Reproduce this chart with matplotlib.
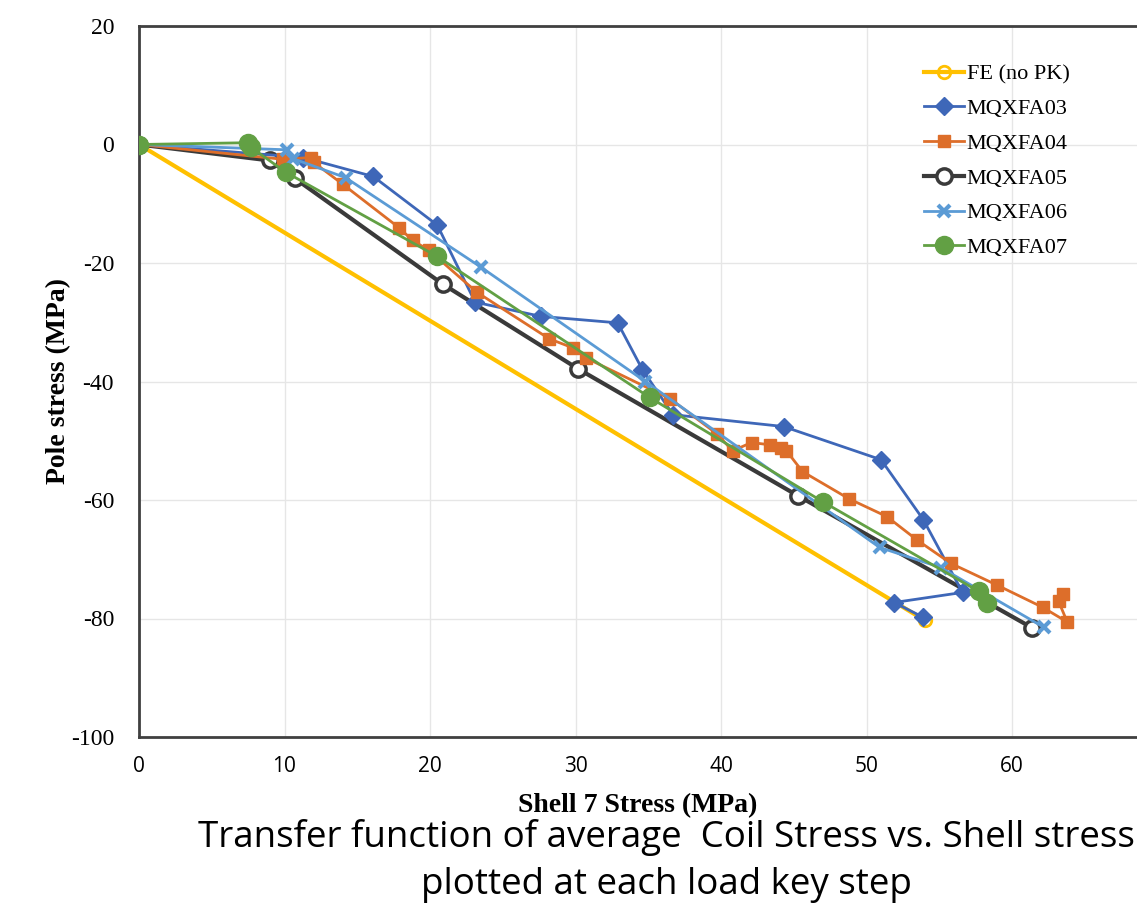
import matplotlib
matplotlib.use("Agg")
import matplotlib.pyplot as plt

# ---- data ----
fe_x = [0.0, 54.0]
fe_y = [0.0, -80.3]

fa03_x = [0.0, 11.3, 16.1, 20.5, 23.1, 27.6, 32.9, 34.6, 36.7, 44.3, 51.0, 53.9, 56.6, 51.9, 53.9]
fa03_y = [0.0, -2.2, -5.4, -13.6, -26.6, -29.0, -30.1, -38.0, -45.6, -47.6, -53.2, -63.3, -75.6, -77.3, -79.8]

fa04_x = [0.0, 9.9, 11.8, 12.0, 14.0, 17.9, 18.8, 19.9, 23.2, 28.2, 29.8, 30.7, 36.5, 39.7, 40.8,
          42.1, 43.4, 44.1, 44.5, 45.6, 48.8, 51.4, 53.5, 55.8, 59.0, 62.1, 63.8, 63.2, 63.5]
fa04_y = [0.0, -2.5, -2.2, -3.0, -6.7, -14.1, -16.2, -17.8, -24.9, -32.8, -34.3, -36.0, -42.9, -48.8, -51.7,
          -50.3, -50.7, -51.3, -51.7, -55.2, -59.8, -62.8, -66.8, -70.7, -74.4, -78.1, -80.6, -77.1, -75.9]

fa05_x = [0.0, 9.0, 10.7, 20.9, 30.2, 45.3, 61.4]
fa05_y = [0.0, -2.7, -5.7, -23.6, -37.9, -59.3, -81.6]

fa06_x = [0.0, 10.2, 10.6, 14.2, 23.5, 34.8, 50.9, 55.1, 62.2]
fa06_y = [0.0, -0.9, -2.4, -5.6, -20.7, -40.0, -68.0, -71.4, -81.5]

fa07_x = [0.0, 7.5, 7.7, 10.1, 20.5, 35.1, 47.0, 57.7, 58.3]
fa07_y = [0.0, 0.3, -0.5, -4.7, -18.9, -42.7, -60.3, -75.4, -77.4]

x_ticks = [0, 10, 20, 30, 40, 50, 60]
y_ticks = [20, 0, -20, -40, -60, -80, -100]

SERIF = ["Liberation Serif", "DejaVu Serif"]
NARROW = ["Liberation Sans Narrow", "Open Sans", "DejaVu Sans"]

plt.rcParams["axes.unicode_minus"] = False

fig = plt.figure(figsize=(11.37, 9.08), dpi=100)
ax = fig.add_axes([139 / 1137, 1 - 737 / 908, 1 - 139 / 1137, (737 - 26) / 908])

ax.plot(fe_x, fe_y, color="#FFC000", lw=3, marker="o", ms=9, mfc="none", mew=2, label="FE (no PK)", zorder=3)
ax.plot(fa03_x, fa03_y, color="#3E67B8", lw=2, marker="D", ms=9, label="MQXFA03", zorder=4)
ax.plot(fa04_x, fa04_y, color="#DD6E2A", lw=2, marker="s", ms=9, label="MQXFA04", zorder=4)
ax.plot(fa05_x, fa05_y, color="#3A3A3A", lw=3, marker="o", ms=11, mfc="white", mew=2.5, label="MQXFA05", zorder=3)
ax.plot(fa06_x, fa06_y, color="#5B9BD5", lw=2, marker="x", ms=9, mew=3, label="MQXFA06", zorder=4)
ax.plot(fa07_x, fa07_y, color="#62A044", lw=2, marker="o", ms=13, label="MQXFA07", zorder=5)

ax.set_xlim(0, (1137 - 139) / 14.55)
ax.set_ylim(-100, 20)
ax.set_xticks(x_ticks)
ax.set_yticks(y_ticks)
ax.grid(True, color="#E6E6E6", lw=1)
ax.set_axisbelow(True)
ax.tick_params(axis="x", length=0, pad=14)
ax.tick_params(axis="y", length=0, pad=18)
for lbl in ax.get_yticklabels():
    lbl.set_fontfamily(SERIF)
    lbl.set_fontsize(17)
for lbl in ax.get_xticklabels():
    lbl.set_fontfamily(NARROW)
    lbl.set_fontsize(15)
for side in ["left", "bottom", "top"]:
    ax.spines[side].set_color("#404040")
    ax.spines[side].set_linewidth(2)
ax.spines["right"].set_visible(False)

ax.set_xlabel("Shell 7 Stress (MPa)", fontfamily=SERIF, fontweight="bold", fontsize=20, labelpad=11)
ax.set_ylabel("Pole stress (MPa)", fontfamily=SERIF, fontweight="bold", fontsize=20, labelpad=0)

ax.legend(loc="upper left", bbox_to_anchor=(0.767, 0.975), frameon=False,
          prop={"family": SERIF, "size": 16}, handlelength=1.8, labelspacing=0.64, handletextpad=0.1)

fig.text(666 / 1137, 1 - 838 / 908, "Transfer function of average  Coil Stress vs. Shell stress",
         ha="center", va="center", fontsize=26.5, fontfamily=NARROW)
fig.text(666 / 1137, 1 - 885 / 908, "plotted at each load key step",
         ha="center", va="center", fontsize=26.5, fontfamily=NARROW)

fig.savefig("out.png", dpi=100)
